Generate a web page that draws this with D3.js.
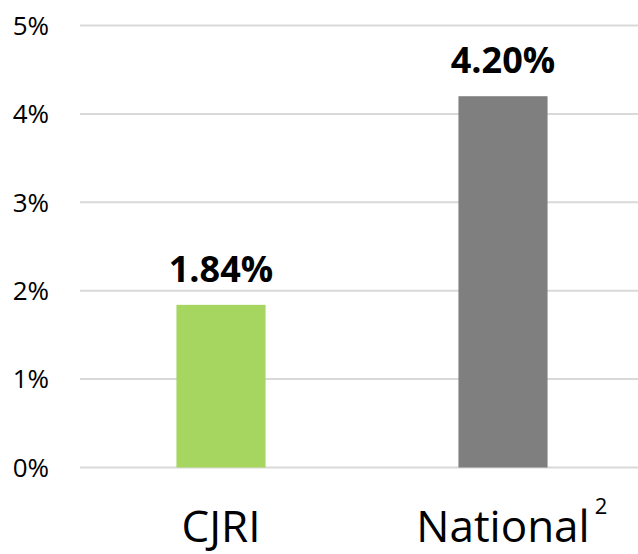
<!DOCTYPE html>
<html>
<head>
<meta charset="utf-8">
<script src="https://cdn.jsdelivr.net/npm/d3@7"></script>
<style>
  body { margin: 0; background: #fff; }
  svg text { font-family: "Open Sans", sans-serif; }
</style>
</head>
<body>
<svg id="chart" width="638" height="554"></svg>
<script>
var categories = ['CJRI', 'National'];
var superscripts = ['', '2'];
var values = [1.84, 4.20];
var colors = ['#a6d65f', '#7f7f7f'];
var yTicks = [0, 1, 2, 3, 4, 5];

var svg = d3.select('#chart');

var margins = { top: 25.5, bottom: 86.5, left: 80, right: -6 };
var width = 638, height = 554;

var x = d3.scaleBand()
  .domain(categories)
  .range([margins.left, width - margins.right])
  .paddingInner(0.684)
  .paddingOuter(0.342);

var y = d3.scaleLinear()
  .domain([0, 5])
  .range([height - margins.bottom, margins.top]);

// gridlines
svg.append('g')
  .selectAll('line')
  .data(yTicks)
  .enter()
  .append('line')
  .attr('x1', margins.left)
  .attr('x2', width)
  .attr('y1', function(d) { return y(d); })
  .attr('y2', function(d) { return y(d); })
  .attr('stroke', '#d9d9d9')
  .attr('stroke-width', 2);

// y tick labels
svg.append('g')
  .selectAll('text')
  .data(yTicks)
  .enter()
  .append('text')
  .attr('x', 49)
  .attr('y', function(d) { return y(d); })
  .attr('dy', '0.36em')
  .attr('text-anchor', 'end')
  .attr('font-size', '26px')
  .attr('fill', '#000')
  .text(function(d) { return d + '%'; });

// bars
svg.append('g')
  .selectAll('rect')
  .data(values)
  .enter()
  .append('rect')
  .attr('x', function(d, i) { return x(categories[i]); })
  .attr('width', x.bandwidth())
  .attr('y', function(d) { return y(d); })
  .attr('height', function(d) { return y(0) - y(d); })
  .attr('fill', function(d, i) { return colors[i]; });

// value labels
svg.append('g')
  .selectAll('text')
  .data(values)
  .enter()
  .append('text')
  .attr('x', function(d, i) { return x(categories[i]) + x.bandwidth() / 2; })
  .attr('y', function(d) { return y(d) - 23; })
  .attr('text-anchor', 'middle')
  .attr('font-size', '36px')
  .attr('font-weight', 'bold')
  .attr('fill', '#000')
  .text(function(d) { return d.toFixed(2) + '%'; });

// category labels (kept above the bottom edge so descenders aren't clipped)
var catLabels = svg.append('g')
  .selectAll('text')
  .data(categories)
  .enter()
  .append('text')
  .attr('x', function(d) { return x(d) + x.bandwidth() / 2; })
  .attr('y', 542)
  .attr('text-anchor', 'middle')
  .attr('font-size', '44px')
  .attr('fill', '#000')
  .text(function(d) { return d; });

catLabels.each(function(d, i) {
  if (!superscripts[i]) return;
  var len = this.getComputedTextLength();
  svg.append('text')
    .attr('x', x(d) + x.bandwidth() / 2 + len / 2 + 5)
    .attr('y', 514)
    .attr('font-size', '22px')
    .attr('fill', '#000')
    .text(superscripts[i]);
});
</script>
</body>
</html>
